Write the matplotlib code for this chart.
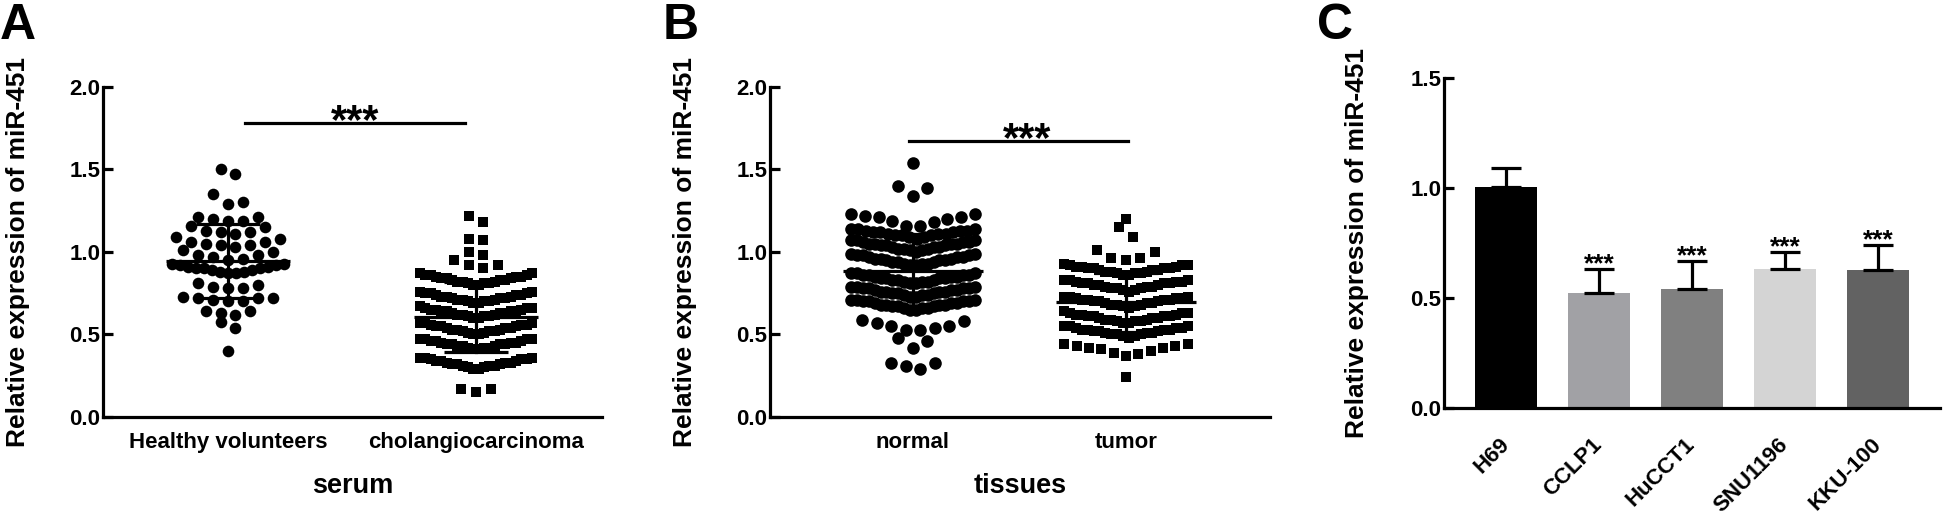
import numpy as np
import matplotlib
matplotlib.use('Agg')
import matplotlib.pyplot as plt

plt.rcParams['font.family'] = ['Liberation Sans', 'DejaVu Sans']
plt.rcParams['font.weight'] = 'bold'
plt.rcParams['axes.labelweight'] = 'bold'

# ---- panel A: serum ----
healthy = [0.40,
           0.54, 0.575,
           0.62, 0.63, 0.64, 0.64,
           0.70, 0.70, 0.71, 0.72, 0.72, 0.72, 0.73,
           0.78, 0.78, 0.79, 0.80, 0.81,
           0.87, 0.87, 0.88, 0.88, 0.89, 0.89, 0.90, 0.90, 0.90, 0.91, 0.91, 0.92, 0.92, 0.93, 0.93,
           0.95, 0.96, 0.97, 0.98, 0.98, 1.00, 1.01,
           1.03, 1.04, 1.04, 1.05, 1.06, 1.06, 1.08, 1.09,
           1.11, 1.12, 1.12, 1.13, 1.15, 1.16,
           1.19, 1.19, 1.20, 1.21, 1.21,
           1.29, 1.30, 1.35,
           1.47, 1.50]
cholangio = [0.15, 0.17, 0.17,
             0.29, 0.29, 0.30, 0.30, 0.31, 0.31, 0.31, 0.32, 0.32, 0.32, 0.33, 0.33, 0.33, 0.34, 0.34, 0.34, 0.35, 0.35, 0.35, 0.36, 0.36, 0.36,
             0.41, 0.41, 0.42, 0.42, 0.42, 0.43, 0.43, 0.43, 0.44, 0.44, 0.44, 0.44, 0.45, 0.45, 0.45, 0.46, 0.46, 0.46, 0.47, 0.47, 0.47, 0.47,
             0.50, 0.50, 0.51, 0.51, 0.52, 0.52, 0.52, 0.53, 0.53, 0.53, 0.54, 0.54, 0.54, 0.55, 0.55, 0.55, 0.56, 0.56, 0.56, 0.57, 0.57, 0.57,
             0.60, 0.60, 0.61, 0.61, 0.61, 0.62, 0.62, 0.62, 0.63, 0.63, 0.63, 0.64, 0.64, 0.64, 0.64, 0.65, 0.65, 0.65, 0.66, 0.66, 0.66, 0.67,
             0.69, 0.69, 0.70, 0.70, 0.70, 0.71, 0.71, 0.71, 0.72, 0.72, 0.72, 0.73, 0.73, 0.73, 0.74, 0.74, 0.74, 0.75, 0.75, 0.75, 0.76, 0.76,
             0.80, 0.80, 0.81, 0.81, 0.81, 0.82, 0.82, 0.82, 0.83, 0.83, 0.83, 0.84, 0.84, 0.84, 0.85, 0.85, 0.85, 0.86, 0.86, 0.86, 0.87, 0.87,
             0.90, 0.92, 0.92, 0.95,
             0.98, 1.00,
             1.07, 1.08,
             1.18, 1.22]
serum_groups = ['Healthy volunteers', 'cholangiocarcinoma']

# ---- panel B: tissues ----
normal = [0.29, 0.31, 0.33, 0.33,
          0.42, 0.46, 0.48,
          0.53, 0.53, 0.54, 0.55, 0.55, 0.57, 0.58, 0.59,
          0.65, 0.65, 0.66, 0.66, 0.66, 0.67, 0.67, 0.67, 0.68, 0.68, 0.68, 0.68, 0.69, 0.69, 0.69, 0.70, 0.70, 0.70, 0.70, 0.71, 0.71, 0.71,
          0.73, 0.73, 0.74, 0.74, 0.74, 0.75, 0.75, 0.75, 0.76, 0.76, 0.76, 0.76, 0.77, 0.77, 0.77, 0.78, 0.78, 0.78, 0.78, 0.79, 0.79, 0.79,
          0.81, 0.81, 0.82, 0.82, 0.82, 0.83, 0.83, 0.83, 0.84, 0.84, 0.84, 0.84, 0.85, 0.85, 0.85, 0.86, 0.86, 0.86, 0.86, 0.87, 0.87, 0.87,
          0.92, 0.92, 0.93, 0.93, 0.93, 0.94, 0.94, 0.94, 0.95, 0.95, 0.95, 0.96, 0.96, 0.96, 0.97, 0.97, 0.97, 0.98, 0.98, 0.98, 0.99, 0.99,
          1.00, 1.01, 1.01, 1.02, 1.02, 1.02, 1.03, 1.03, 1.03, 1.04, 1.04, 1.04, 1.05, 1.05, 1.05, 1.05, 1.06, 1.06, 1.06, 1.07, 1.07, 1.07,
          1.08, 1.09, 1.09, 1.10, 1.10, 1.10, 1.11, 1.11, 1.11, 1.12, 1.12, 1.12, 1.13, 1.13, 1.13, 1.14, 1.14, 1.14,
          1.16, 1.16, 1.18, 1.19, 1.20, 1.21, 1.21, 1.22, 1.23, 1.23,
          1.34, 1.39, 1.40,
          1.54]
tumor = [0.24,
         0.37, 0.38, 0.39, 0.40, 0.41, 0.42, 0.42, 0.43, 0.43, 0.44, 0.44,
         0.48, 0.49, 0.49, 0.50, 0.50, 0.50, 0.51, 0.51, 0.51, 0.52, 0.52, 0.52, 0.53, 0.53, 0.53, 0.53, 0.54, 0.54, 0.54, 0.55, 0.55, 0.55,
         0.57, 0.57, 0.58, 0.58, 0.58, 0.59, 0.59, 0.59, 0.60, 0.60, 0.60, 0.61, 0.61, 0.61, 0.61, 0.62, 0.62, 0.62, 0.63, 0.63, 0.63, 0.64,
         0.66, 0.67, 0.67, 0.68, 0.68, 0.68, 0.69, 0.69, 0.69, 0.70, 0.70, 0.70, 0.71, 0.71, 0.71, 0.71, 0.72, 0.72, 0.72, 0.73, 0.73, 0.73,
         0.76, 0.77, 0.77, 0.78, 0.78, 0.78, 0.79, 0.79, 0.79, 0.80, 0.80, 0.80, 0.81, 0.81, 0.81, 0.81, 0.82, 0.82, 0.82, 0.83, 0.83, 0.83,
         0.86, 0.86, 0.87, 0.87, 0.87, 0.88, 0.88, 0.88, 0.89, 0.89, 0.89, 0.90, 0.90, 0.90, 0.90, 0.91, 0.91, 0.91, 0.92, 0.92, 0.92, 0.93,
         0.95, 0.965, 0.965, 1.00, 1.01,
         1.09, 1.15,
         1.20]
tissue_groups = ['normal', 'tumor']

# ---- panel C: cell lines ----
cell_lines = ['H69', 'CCLP1', 'HuCCT1', 'SNU1196', 'KKU-100']
cell_expr = [1.006, 0.524, 0.542, 0.633, 0.627]
cell_err = [0.085, 0.108, 0.128, 0.076, 0.115]
cell_colors = ['#000000', '#a1a1a5', '#808080', '#d4d4d4', '#626262']
cell_sig = ['', '***', '***', '***', '***']


def prism_layout(values, step, half_width, bin_h):
    # rows of nearby values, spread sideways from the centre (smallest in the middle)
    vals = np.sort(np.asarray(values, dtype=float))
    xs, ys = [], []
    i = 0
    while i < len(vals):
        j = i
        while j < len(vals) and vals[j] < vals[i] + bin_h:
            j += 1
        row = vals[i:j]
        n = len(row)
        s = step if n < 2 else min(step, 2 * half_width / (n - 1))
        for k, v in enumerate(row):
            if n % 2:
                m = ((k + 1) // 2) * (1 if k % 2 else -1)
            else:
                m = (k // 2 + 0.5) * (1 if k % 2 == 0 else -1)
            xs.append(m * s)
            ys.append(v)
        i = j
    return np.array(xs), np.array(ys)


def dot_panel(ax, groups, data, markers, sizes, step, half_width, mean_w, cap_w):
    for pos, (vals, mk, sz) in enumerate(zip(data, markers, sizes)):
        dx, y = prism_layout(vals, step, half_width, 0.075)
        ax.scatter(pos + dx, y, s=sz, marker=mk, color='black', linewidths=0, zorder=2)
        m = np.mean(vals)
        sd = np.std(vals, ddof=1)
        ax.plot([pos - mean_w, pos + mean_w], [m, m], color='black', lw=2.3, zorder=3, solid_capstyle='butt')
        ax.plot([pos, pos], [m - sd, m + sd], color='black', lw=2.3, zorder=3)
        for yy in (m - sd, m + sd):
            ax.plot([pos - cap_w, pos + cap_w], [yy, yy], color='black', lw=2.3, zorder=3, solid_capstyle='butt')
    ax.set_ylim(0, 2.0)
    ax.set_yticks([0, 0.5, 1.0, 1.5, 2.0])
    ax.set_yticklabels(['0.0', '0.5', '1.0', '1.5', '2.0'])
    ax.set_xticks(range(len(groups)))
    ax.set_xticklabels(groups)


def style_axes(ax):
    for side in ('top', 'right'):
        ax.spines[side].set_visible(False)
    for side in ('left', 'bottom'):
        ax.spines[side].set_linewidth(2.3)
    ax.tick_params(axis='y', direction='in', length=7.5, width=2.3, pad=2, labelsize=16)
    ax.tick_params(axis='x', length=0, labelsize=16)


fig = plt.figure(figsize=(19.43, 5.16), dpi=100)

axA = fig.add_axes([0.0530, 0.1919, 0.2568, 0.6395])
axB = fig.add_axes([0.3963, 0.1919, 0.2573, 0.6395])
axC = fig.add_axes([0.7432, 0.2093, 0.2553, 0.6395])

dot_panel(axA, serum_groups, [healthy, cholangio], ['o', 's'], [70, 62],
          step=0.06, half_width=0.226, mean_w=0.25, cap_w=0.13)
axA.set_xlim(-0.504, 1.508)
axA.plot([0.07, 0.956], [1.78, 1.78], color='black', lw=2.3)
axA.text(0.513, 1.72, '***', ha='center', va='baseline', fontsize=30, fontweight='bold')
axA.set_xlabel('serum', fontsize=19.5)

dot_panel(axB, tissue_groups, [normal, tumor], ['o', 's'], [82, 58],
          step=0.068, half_width=0.29, mean_w=0.33, cap_w=0.15)
axB.set_xlim(-0.671, 1.676)
axB.plot([-0.02, 1.01], [1.67, 1.67], color='black', lw=2.3)
axB.text(0.535, 1.61, '***', ha='center', va='baseline', fontsize=30, fontweight='bold')
axB.set_xlabel('tissues', fontsize=19.5)

for ax in (axA, axB):
    style_axes(ax)
    ax.tick_params(axis='x', pad=11)
    ax.set_ylabel('Relative expression of miR-451', fontsize=19)
    ax.yaxis.set_label_coords(-0.146, 0.5)
    ax.xaxis.set_label_coords(0.5, -0.17)

xs = np.arange(len(cell_lines))
axC.bar(xs, cell_expr, width=0.66, color=cell_colors, edgecolor='none', zorder=2)
axC.errorbar(xs, cell_expr, yerr=[np.zeros(len(cell_err)), cell_err], fmt='none',
             ecolor='black', elinewidth=2.3, capsize=11, capthick=2.3, zorder=3)
for x, top, e, lab in zip(xs, cell_expr, cell_err, cell_sig):
    if lab:
        axC.text(x, top + e - 0.012, lab, ha='center', va='baseline', fontsize=19, fontweight='bold')
axC.set_xlim(-0.667, 4.667)
axC.set_ylim(0, 1.5)
axC.set_yticks([0, 0.5, 1.0, 1.5])
axC.set_yticklabels(['0.0', '0.5', '1.0', '1.5'])
axC.set_xticks(xs)
style_axes(axC)
axC.set_xticklabels(cell_lines, rotation=45, ha='right', va='center', rotation_mode='anchor')
axC.tick_params(axis='x', pad=24)
axC.set_ylabel('Relative expression of miR-451', fontsize=19)
axC.yaxis.set_label_coords(-0.151, 0.5)

fig.text(0.0, 0.995, 'A', fontsize=36, fontweight='bold', va='top', ha='left')
fig.text(0.341, 0.995, 'B', fontsize=36, fontweight='bold', va='top', ha='left')
fig.text(0.678, 0.995, 'C', fontsize=36, fontweight='bold', va='top', ha='left')

fig.savefig('out.png', dpi=100)
